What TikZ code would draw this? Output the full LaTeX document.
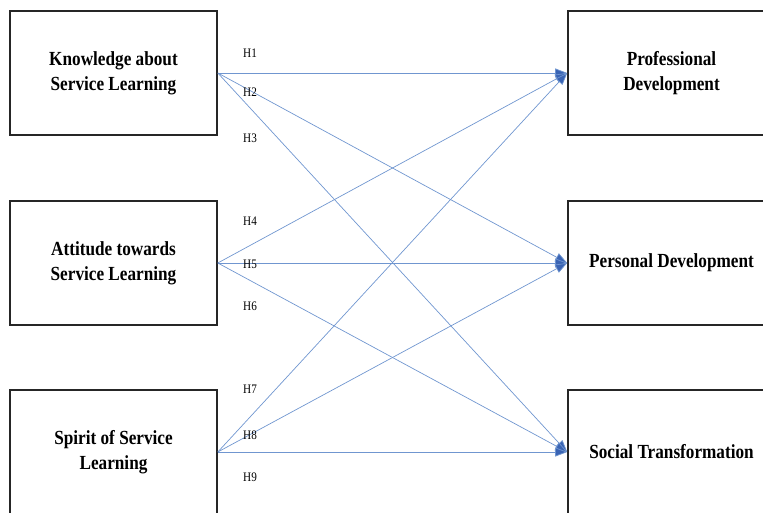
\documentclass[tikz,border=0pt]{standalone}
\usepackage{fontspec}
\setmainfont{Liberation Serif}[FakeStretch=0.86]
\usetikzlibrary{arrows.meta}
\definecolor{lineblue}{RGB}{112,150,208}
\definecolor{tipblue}{RGB}{58,100,180}
\begin{document}
\begin{tikzpicture}[x=1pt, y=-1pt,
		box/.style = {draw = black!85, line width = 1.6pt, minimum width = 207pt, minimum height = 124pt,
			align = center, inner sep = 0pt, font = \fontsize{20}{25}\selectfont\bfseries},
		hyp/.style = {draw = lineblue, line width = 0.7pt, -{Triangle[length = 12pt, width = 9pt, fill = tipblue]}},
		hlabel/.style = {anchor = west, inner sep = 0pt, font = \fontsize{13}{15}\selectfont}]
		\useasboundingbox (0,0) rectangle (763,513);
		% independent variables
		\node [box] (know) at (113.5,73) {Knowledge about\\Service Learning};
		\node [box] (att) at (113.5,263) {Attitude towards\\Service Learning};
		\node [box] (spirit) at (113.5,452) {Spirit of Service\\Learning};
		% outcomes
		\node [box] (prof) at (671.5,73) {Professional\\Development};
		\node [box] (pers) at (671.5,263) {Personal Development};
		\node [box] (soc) at (671.5,452) {Social Transformation};
		% hypotheses
		\foreach \src in {know, att, spirit}
			\foreach \dst in {prof, pers, soc}
				\draw [hyp] (\src.east) -- (\dst.west);
		\foreach \i/\y in {1/53, 2/92, 3/138, 4/221, 5/264, 6/306, 7/389, 8/435, 9/477}
			\node [hlabel] (h\i) at (243,\y) {H\i};
	\end{tikzpicture}
\end{document}
